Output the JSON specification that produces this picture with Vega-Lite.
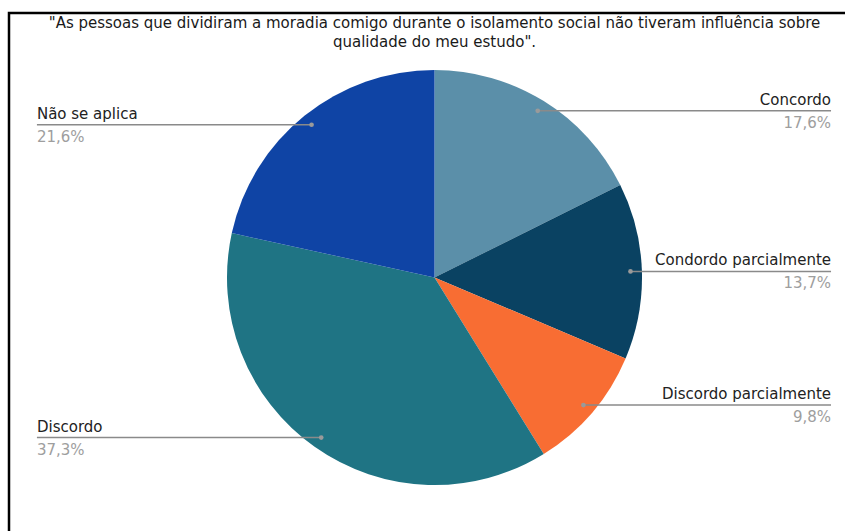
{
  "$schema": "https://vega.github.io/schema/vega-lite/v6.json",
  "width": 851,
  "height": 529,
  "autosize": {"type": "none"},
  "padding": {"left": 9, "top": 13, "right": 0, "bottom": 0},
  "background": "white",
  "title": {
    "text": ["\"As pessoas que dividiram a moradia comigo durante o isolamento social não tiveram influência sobre", "qualidade do meu estudo\"."],
    "font": "DejaVu Sans",
    "fontSize": 15,
    "fontWeight": "normal",
    "color": "#1a1a1a",
    "anchor": "middle",
    "offset": -37,
    "lineHeight": 19
  },
  "data": {
    "values": [
      {"categoria": "Concordo", "n": 9, "ordem": 1},
      {"categoria": "Condordo parcialmente", "n": 7, "ordem": 2},
      {"categoria": "Discordo parcialmente", "n": 5, "ordem": 3},
      {"categoria": "Discordo", "n": 19, "ordem": 4},
      {"categoria": "Não se aplica", "n": 11, "ordem": 5}
    ]
  },
  "transform": [
    {"joinaggregate": [{"op": "sum", "field": "n", "as": "total"}]},
    {"window": [{"op": "sum", "field": "n", "as": "cum"}], "sort": [{"field": "ordem"}], "frame": [null, 0]},
    {"calculate": "datum.n / datum.total * 100", "as": "pct"},
    {"calculate": "2 * PI * (datum.cum - datum.n / 2) / datum.total", "as": "ang"},
    {"calculate": "0.945 * sin(datum.ang)", "as": "px"},
    {"calculate": "0.945 * cos(datum.ang)", "as": "py"},
    {"calculate": "datum.ang < PI ? 1.911 : -1.916", "as": "lx"},
    {"calculate": "replace(format(datum.pct, '.1f'), '.', ',') + '%'", "as": "pctLabel"}
  ],
  "config": {
    "view": {"stroke": "#000000", "strokeWidth": 2.5},
    "font": "DejaVu Sans"
  },
  "layer": [
    {
      "mark": {"type": "arc", "outerRadius": 207.5},
      "encoding": {
        "theta": {"field": "n", "type": "quantitative", "stack": true},
        "order": {"field": "ordem", "type": "quantitative"},
        "color": {
          "field": "categoria",
          "type": "nominal",
          "legend": null,
          "scale": {
            "domain": ["Concordo", "Condordo parcialmente", "Discordo parcialmente", "Discordo", "Não se aplica"],
            "range": ["#5b8fa9", "#0a4262", "#f86d33", "#1f7484", "#0f44a5"]
          }
        }
      }
    },
    {
      "mark": {"type": "rule", "color": "#8a8a8a", "strokeWidth": 1.5},
      "encoding": {
        "x": {"field": "px", "type": "quantitative", "axis": null, "scale": {"domain": [-2.0506, 2.0506], "nice": false, "zero": false}},
        "x2": {"field": "lx"},
        "y": {"field": "py", "type": "quantitative", "axis": null, "scale": {"domain": [-1.2747, 1.2747], "nice": false, "zero": false}}
      }
    },
    {
      "mark": {"type": "circle", "color": "#9a9a9a", "size": 22, "opacity": 1},
      "encoding": {
        "x": {"field": "px", "type": "quantitative"},
        "y": {"field": "py", "type": "quantitative"}
      }
    },
    {
      "mark": {"type": "text", "font": "DejaVu Sans", "fontSize": 15, "color": "#222222", "baseline": "alphabetic", "dy": -6, "align": {"expr": "datum.lx > 0 ? 'right' : 'left'"}},
      "encoding": {
        "x": {"field": "lx", "type": "quantitative"},
        "y": {"field": "py", "type": "quantitative"},
        "text": {"field": "categoria"}
      }
    },
    {
      "mark": {"type": "text", "font": "DejaVu Sans", "fontSize": 15, "color": "#9e9e9e", "baseline": "alphabetic", "dy": 17, "align": {"expr": "datum.lx > 0 ? 'right' : 'left'"}},
      "encoding": {
        "x": {"field": "lx", "type": "quantitative"},
        "y": {"field": "py", "type": "quantitative"},
        "text": {"field": "pctLabel"}
      }
    }
  ]
}
